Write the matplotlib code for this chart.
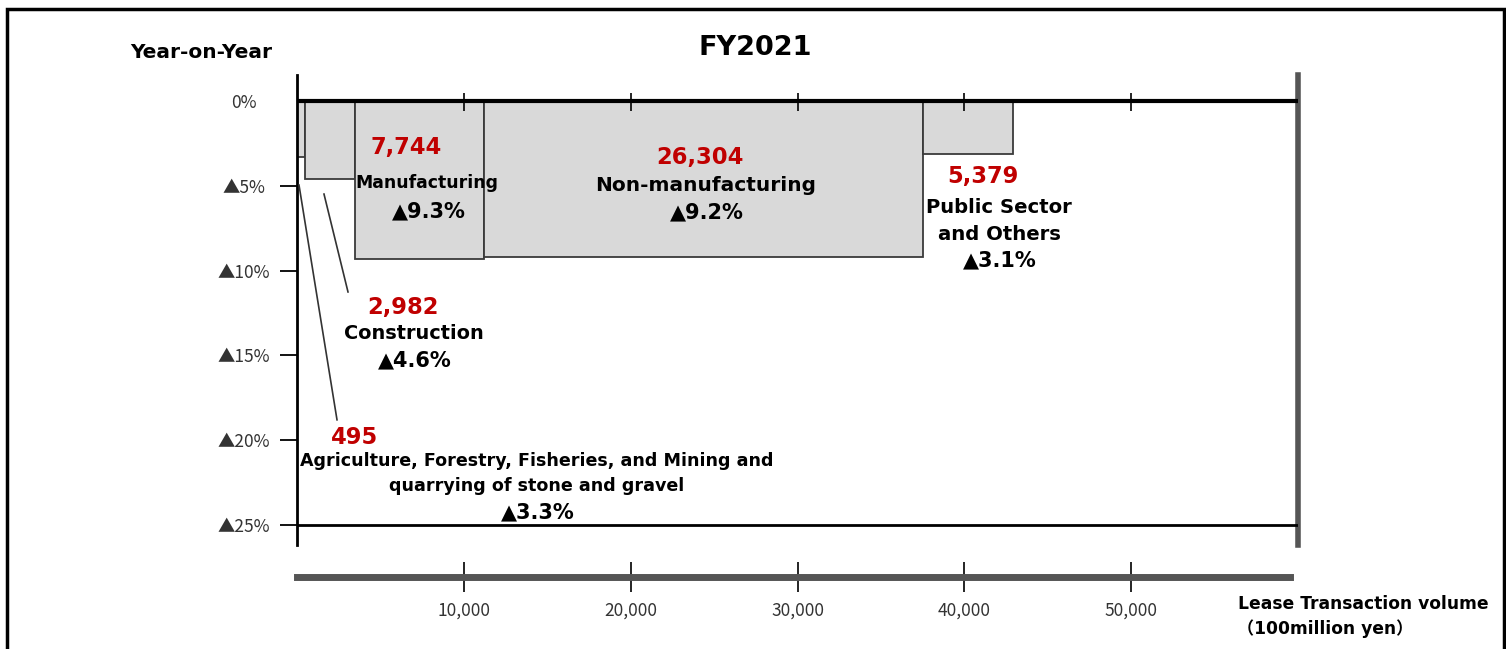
import matplotlib.pyplot as plt
from matplotlib.patches import Rectangle

# data
categories = ['Agriculture, Forestry, Fisheries, and Mining and\nquarrying of stone and gravel',
              'Construction', 'Manufacturing', 'Non-manufacturing', 'Public Sector\nand Others']
volumes = [495, 2982, 7744, 26304, 5379]
yoy = [-3.3, -4.6, -9.3, -9.2, -3.1]
x_ticks = [10000, 20000, 30000, 40000, 50000]
y_ticks = [0, -5, -10, -15, -20, -25]
y_ticklabels = ['0%', '▲5%', '▲10%', '▲15%', '▲20%', '▲25%']

bold = ['DejaVu Sans', 'Noto Sans CJK JP']
narrow = ['Noto Sans CJK JP', 'DejaVu Sans']
red = '#c00000'

W, H = 1506, 649
fig = plt.figure(figsize=(W / 100, H / 100), dpi=100, facecolor='white')

# outer frame
fig.patches.append(Rectangle((7 / W, -0.05), (1504 - 7) / W, 1.05 - 9 / H, transform=fig.transFigure,
                             fill=False, edgecolor='black', lw=2.5))

ax = fig.add_axes([297 / W, 1 - 545 / H, (1298 - 297) / W, (545 - 75) / H])
ax.set_xlim(0, 60000)
ax.set_ylim(-26.2, 1.55)

lefts = [sum(volumes[:i]) for i in range(len(volumes))]
ax.bar(lefts, yoy, width=volumes, align='edge', color='#d9d9d9', edgecolor='#3a3a3a', lw=1.3, zorder=2)

ax.axhline(0, color='black', lw=3, zorder=3)
ax.axhline(-25, color='black', lw=2, zorder=3)
ax.vlines(x_ticks, -0.55, 0.5, color='black', lw=1.2, zorder=3)

for s in ['top', 'bottom']:
    ax.spines[s].set_visible(False)
ax.spines['left'].set_linewidth(2)
ax.spines['right'].set_color('#555555')
ax.spines['right'].set_linewidth(4)
ax.set_xticks([])
ax.set_yticks(y_ticks)
ax.set_yticklabels(y_ticklabels, family=narrow, fontsize=12.5, color='#333333', ha='center')
ax.tick_params(axis='y', length=12, width=1.3, pad=26)
ax.yaxis.get_major_ticks()[0].tick1line.set_visible(False)

# labels: (x, y of red value), (name pos), (pct pos)
lab_pos = [
    ((3477, -19.87), (14386, -21.98), (14446, -24.29)),
    ((6354, -12.2), (7013, -13.74), (7073, -15.33)),
    ((6533, -2.71), (7792, -4.83), (7912, -6.48)),
    ((24156, -3.3), (24515, -4.95), (24575, -6.54)),
    ((41119, -4.42), (42078, -7.08), (42138, -9.37)),
]
name_size = [12.6, 13.9, 12.4, 14.5, 14.1]
for cat, v, p, (vp, npos, pp), ns in zip(categories, volumes, yoy, lab_pos, name_size):
    ax.text(*vp, f'{v:,}', color=red, fontsize=16.3, fontweight='bold', family=bold, ha='center', va='center',
            zorder=5)
    ax.text(*npos, cat, color='black', fontsize=ns, fontweight='bold', family=bold, ha='center', va='center',
            linespacing=1.5, zorder=5)
    ax.text(*pp, f'▲{abs(p)}%', color='black', fontsize=15, fontweight='bold', family=bold, ha='center',
            va='center', zorder=5)

# leader lines
ax.plot([120, 2398], [-4.95, -18.81], color='#333333', lw=1.2, zorder=4)
ax.plot([1618, 3057], [-5.48, -11.26], color='#333333', lw=1.2, zorder=4)

# separate x axis
ax2 = fig.add_axes([297 / W, 1 - 577 / H, (1298 - 297) / W, 0.0001])
ax2.set_xlim(0, 60000)
ax2.set_yticks([])
for s in ['top', 'left', 'right']:
    ax2.spines[s].set_visible(False)
ax2.spines['bottom'].set_color('#555555')
ax2.spines['bottom'].set_linewidth(5)
ax2.spines['bottom'].set_bounds(0, 59500)
ax2.set_xticks(x_ticks)
ax2.set_xticklabels([f'{t:,}' for t in x_ticks], family=narrow, fontsize=12.5, color='#333333')
ax2.tick_params(axis='x', direction='inout', length=22, width=1.2, pad=7)

fig.text(755 / W, 1 - 48 / H, 'FY2021', fontsize=19.5, fontweight='bold', family=bold, ha='center', va='center')
fig.text(130 / W, 1 - 53 / H, 'Year-on-Year', fontsize=14.5, fontweight='bold', family=bold, ha='left', va='center')
fig.text(1489 / W, 1 - 604 / H, 'Lease Transaction volume', fontsize=12.3, fontweight='bold', family=bold,
         ha='right', va='center')
fig.text(1237 / W, 1 - 629 / H, '（100million yen）', fontsize=12.3, fontweight='bold', family=bold,
         ha='left', va='center')

fig.savefig('out.png', dpi=100, facecolor='white')
